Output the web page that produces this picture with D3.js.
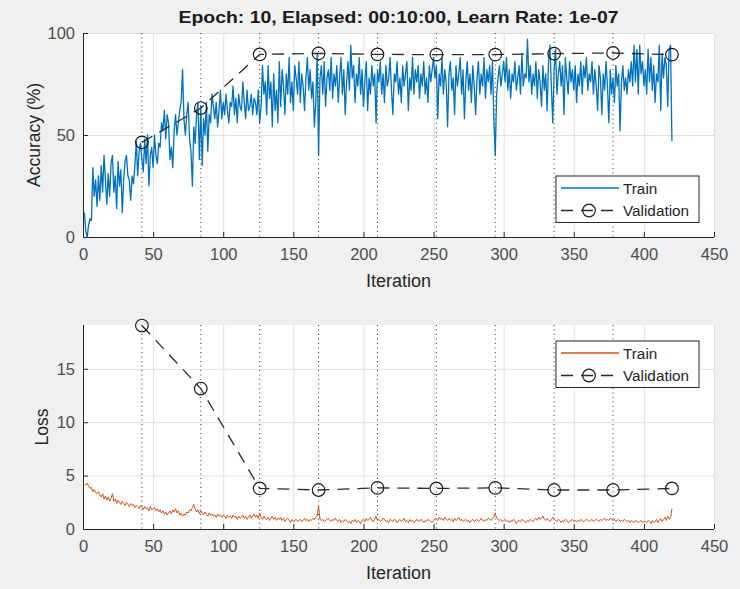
<!DOCTYPE html>
<html><head><meta charset="utf-8">
<script src="https://cdn.jsdelivr.net/npm/d3@7"></script>
<style>
html,body{margin:0;padding:0;background:#f0f0f0;}
svg{display:block;font-family:"Liberation Sans",Arial,Helvetica,sans-serif;}
</style></head>
<body><svg id="chart" width="740" height="589"></svg>
<script>
const titleText = "Epoch: 10, Elapsed: 00:10:00, Learn Rate: 1e-07";
const xTicks = [0,50,100,150,200,250,300,350,400,450];
const accTicks = [0,50,100];
const lossTicks = [0,5,10,15];
const epochIters = [42,84,126,168,210,252,294,336,378];
const valIters = [42,84,126,168,210,252,294,336,378,420];
const valAccuracy = [46.4,63.2,89.5,90,89.5,89.4,89.4,89.9,90.2,89.4];
const valLoss = [19.05,13.15,3.8,3.65,3.85,3.8,3.85,3.65,3.65,3.8];
const trainAccuracy = [
12,3,0,6,9,8,34,20,28,15,
30,18,35,22,40,28,16,31,20,36,
40,22,30,14,37,25,33,12,28,37,
40,30,28,18,30,26,35,47,30,42,
46,38,32,48,36,50,25,40,44,34,
50,40,36,46,44,56,52,62,48,60,
56,38,44,34,52,60,50,56,62,66,
82,58,50,60,66,48,42,25,54,46,
60,66,38,64,35,58,50,66,42,60,
56,70,64,58,66,54,62,72,58,66,
60,70,62,56,66,64,74,60,68,56,
70,64,62,76,66,58,72,62,64,70,
60,68,66,60,72,56,64,84,70,76,
60,84,68,76,54,80,62,72,56,86,
64,82,74,60,80,70,88,66,76,62,
84,78,70,86,66,80,74,62,78,88,
72,82,68,76,54,66,90,40,78,84,
70,86,64,78,82,72,88,68,80,74,
84,66,78,88,70,82,60,76,86,72,
94,78,84,66,80,74,88,70,82,64,
76,86,62,78,70,84,74,80,56,82,
76,86,70,80,66,84,74,78,88,72,
60,80,76,86,70,78,66,84,74,80,
86,62,78,72,88,70,82,76,84,68,
80,74,86,70,78,66,84,76,82,88,
78,84,58,80,74,88,70,82,76,54,
80,86,72,78,60,84,74,80,88,70,
82,58,76,86,72,80,66,84,74,60,
78,86,70,80,74,88,68,82,76,84,
70,86,58,40,70,78,84,74,80,86,
76,88,72,82,68,80,76,86,72,78,
84,70,90,74,80,78,97,76,84,70,
80,74,86,68,82,76,64,84,72,80,
62,86,94,74,56,82,92,70,80,86,
74,84,60,88,78,70,86,76,82,72,
84,66,80,74,86,70,84,78,88,72,
80,76,86,70,82,74,62,84,78,60,
80,72,86,74,56,82,70,78,66,84,
74,80,52,76,84,72,78,70,82,76,
86,74,94,76,92,70,94,80,86,74,
82,70,92,76,88,72,84,66,80,76,
94,62,90,78,88,84,64,92,94,47];
const trainLoss = [
4.2,4.1,4.3,4.0,3.8,3.9,3.5,3.7,3.4,3.3,
3.5,3.2,3.0,3.3,2.8,3.1,2.7,3.0,2.6,2.9,
3.3,2.6,2.8,2.4,2.7,2.5,2.3,2.6,2.4,2.2,
2.5,2.3,2.1,2.4,2.2,2.3,2.0,2.2,2.1,1.9,
2.2,2.0,1.8,2.1,1.9,2.0,1.7,2.1,1.8,1.9,
2.0,1.7,1.9,1.6,1.8,1.5,1.7,1.4,1.6,1.3,
1.5,1.7,1.4,1.8,1.6,1.9,1.5,1.7,1.3,1.5,
1.2,1.4,1.3,1.6,1.5,1.8,1.7,2.0,2.3,1.9,
1.6,1.8,1.4,1.7,1.5,1.3,1.6,1.4,1.2,1.5,
1.3,1.4,1.2,1.3,1.1,1.4,1.2,1.3,1.1,1.3,
1.2,1.0,1.3,1.1,1.2,1.0,1.3,1.1,1.2,0.9,
1.2,1.0,1.1,1.3,1.0,1.2,0.9,1.1,1.3,1.0,
1.2,1.4,1.1,1.3,1.0,1.5,1.1,0.9,1.2,1.0,
0.9,1.1,0.8,1.0,1.2,0.9,1.1,0.8,1.0,0.9,
1.1,0.8,1.0,0.7,0.9,1.0,0.8,0.6,0.9,0.7,
0.8,0.9,0.7,0.8,0.9,0.7,0.8,1.0,0.8,0.9,
0.7,0.9,0.8,1.0,0.9,1.1,1.2,2.2,0.9,0.8,
0.9,0.7,0.8,0.9,1.0,0.8,0.7,0.9,0.8,1.0,
0.8,0.7,0.9,0.6,0.8,0.7,0.9,0.8,0.6,0.7,
0.5,0.8,0.7,0.9,0.6,0.8,0.7,0.5,0.8,0.9,
0.7,1.0,0.8,0.9,1.1,0.8,0.7,0.9,1.2,0.8,
0.9,0.7,0.8,1.0,0.9,0.7,0.8,0.6,0.9,0.8,
0.7,0.9,0.8,0.6,0.8,0.9,0.7,0.8,1.0,0.7,
0.8,0.6,0.9,0.7,0.8,0.6,0.7,0.9,0.8,0.7,
0.9,0.8,0.6,0.8,0.7,0.9,0.8,0.7,0.6,0.8,
1.0,0.9,0.8,1.1,0.9,1.0,0.8,1.1,0.9,0.8,
1.0,0.8,0.9,0.7,1.0,0.8,0.9,1.1,0.8,0.9,
0.7,0.8,0.9,0.7,0.8,0.6,0.8,0.9,0.7,0.8,
0.9,0.7,0.8,1.0,0.8,0.7,0.9,0.8,1.0,0.9,
0.8,1.0,1.1,1.5,1.0,0.9,0.8,0.9,0.7,0.8,
0.9,0.7,0.8,0.6,0.8,0.7,0.9,0.8,0.5,0.7,
0.8,0.7,0.9,0.8,0.7,0.6,0.8,0.7,0.9,0.8,
0.7,0.9,1.0,0.8,1.1,0.9,1.0,1.2,0.9,0.8,
1.0,0.8,0.7,0.9,1.1,0.9,0.8,0.7,0.9,0.8,
0.6,0.8,0.7,0.9,0.8,0.6,0.7,0.8,0.9,0.7,
0.8,0.7,0.8,0.7,0.9,0.8,0.7,0.8,0.9,0.8,
0.7,0.8,0.9,0.7,0.8,0.9,0.8,0.7,0.9,0.8,
0.9,1.0,0.8,0.9,0.8,1.0,0.9,0.8,0.9,0.7,
0.8,0.9,0.7,0.8,0.7,0.9,0.8,0.7,0.8,0.6,
0.8,0.7,0.6,0.8,0.7,0.6,0.7,0.8,0.6,0.7,
0.7,0.6,0.8,0.7,0.5,0.8,0.6,0.7,0.9,0.6,
0.8,1.0,0.7,0.9,1.1,0.8,1.2,0.9,1.0,1.9];

const svg = d3.select("#chart");
const AX = "#262626", TICKC = "#4d4d4d", GRID = "#e1e1e1";

svg.append("text").attr("x",398.5).attr("y",23).attr("text-anchor","middle")
  .attr("font-size",16.5).attr("font-weight","bold").attr("fill","#1a1a1a")
  .attr("textLength",440).attr("lengthAdjust","spacingAndGlyphs").text(titleText);

function panel(cfg){
  const {top, bottom, yMax, yTicks, train, val, color, lw, ylabel, ylabelX, legendY} = cfg;
  const x = d3.scaleLinear().domain([0,450]).range([83,714]);
  const y = d3.scaleLinear().domain([0,yMax]).range([bottom,top]);
  const g = svg.append("g");
  g.append("rect").attr("x",83).attr("y",top).attr("width",631).attr("height",bottom-top).attr("fill","#fff");
  g.append("g").attr("transform",`translate(0,${bottom})`)
    .call(d3.axisBottom(x).tickValues(xTicks).tickSize(-(bottom-top)).tickFormat(""))
    .call(s=>{s.select(".domain").remove(); s.selectAll("line").attr("stroke",GRID);});
  g.append("g").attr("transform",`translate(83,0)`)
    .call(d3.axisLeft(y).tickValues(yTicks).tickSize(-631).tickFormat(""))
    .call(s=>{s.select(".domain").remove(); s.selectAll("line").attr("stroke",GRID);});
  g.selectAll(".ep").data(epochIters).enter().append("line")
    .attr("x1",d=>x(d)).attr("x2",d=>x(d)).attr("y1",top).attr("y2",bottom)
    .attr("stroke","#333").attr("stroke-width",1).attr("stroke-dasharray","1,3.5");
  const line = d3.line().x((d,i)=>x(i+1)).y(d=>y(d));
  g.append("path").datum(train).attr("d",line).attr("fill","none")
    .attr("stroke",color).attr("stroke-width",lw).attr("stroke-linejoin","round");
  const vline = d3.line().x((d,i)=>x(valIters[i])).y(d=>y(d));
  g.append("path").datum(val).attr("d",vline).attr("fill","none")
    .attr("stroke","#2b2b2b").attr("stroke-width",1.3).attr("stroke-dasharray","12,8");
  g.selectAll(".vc").data(val).enter().append("circle")
    .attr("cx",(d,i)=>x(valIters[i])).attr("cy",d=>y(d)).attr("r",6.3)
    .attr("fill","none").attr("stroke","#1a1a1a").attr("stroke-width",1.2);
  const xa = g.append("g").attr("transform",`translate(0,${bottom})`)
    .call(d3.axisBottom(x).tickValues(xTicks).tickSizeInner(-5).tickSizeOuter(0).tickPadding(11));
  const ya = g.append("g").attr("transform",`translate(83,0)`)
    .call(d3.axisLeft(y).tickValues(yTicks).tickSizeInner(-5).tickSizeOuter(0).tickPadding(8));
  [xa,ya].forEach(a=>{
    a.select(".domain").attr("stroke",AX).attr("stroke-width",1);
    a.selectAll(".tick line").attr("stroke",AX);
    a.selectAll("text").attr("font-size",16.5).attr("fill",TICKC).attr("font-family","Liberation Sans, Arial, sans-serif");
  });
  ya.select(".domain").attr("d",`M0.5,${bottom}V${top}`);
  xa.select(".domain").attr("d",`M83,0.5H714`);
  svg.append("text").attr("x",398.5).attr("y",bottom+50).attr("text-anchor","middle")
    .attr("font-size",18).attr("fill",AX).text("Iteration");
  svg.append("text").attr("transform",`translate(${ylabelX},${(top+bottom)/2}) rotate(-90)`)
    .attr("text-anchor","middle").attr("font-size",17.5).attr("fill",AX).text(ylabel);
  const lg = svg.append("g").attr("transform",`translate(556,${legendY})`);
  lg.append("rect").attr("x",0).attr("y",0).attr("width",143).attr("height",46.5)
    .attr("fill","#fff").attr("stroke",AX).attr("stroke-width",1);
  lg.append("line").attr("x1",5).attr("x2",63).attr("y1",12).attr("y2",12).attr("stroke",color).attr("stroke-width",lw+0.3);
  lg.append("text").attr("x",67).attr("y",17.5).attr("font-size",15.3).attr("fill",AX).text("Train");
  lg.append("line").attr("x1",5).attr("x2",63).attr("y1",34.5).attr("y2",34.5).attr("stroke","#2b2b2b")
    .attr("stroke-width",1.3).attr("stroke-dasharray","12,8");
  lg.append("circle").attr("cx",33).attr("cy",34.5).attr("r",6.3).attr("fill","none").attr("stroke","#1a1a1a").attr("stroke-width",1.2);
  lg.append("text").attr("x",67).attr("y",40).attr("font-size",15.3).attr("fill",AX).text("Validation");
}

panel({top:33,bottom:237,yMax:100,yTicks:accTicks,train:trainAccuracy,val:valAccuracy,
  color:"#0072BD",lw:1.3,ylabel:"Accuracy (%)",ylabelX:40,legendY:176});
panel({top:325,bottom:529,yMax:19.1,yTicks:lossTicks,train:trainLoss,val:valLoss,
  color:"#D95319",lw:1,ylabel:"Loss",ylabelX:48,legendY:341});
</script></body></html>
